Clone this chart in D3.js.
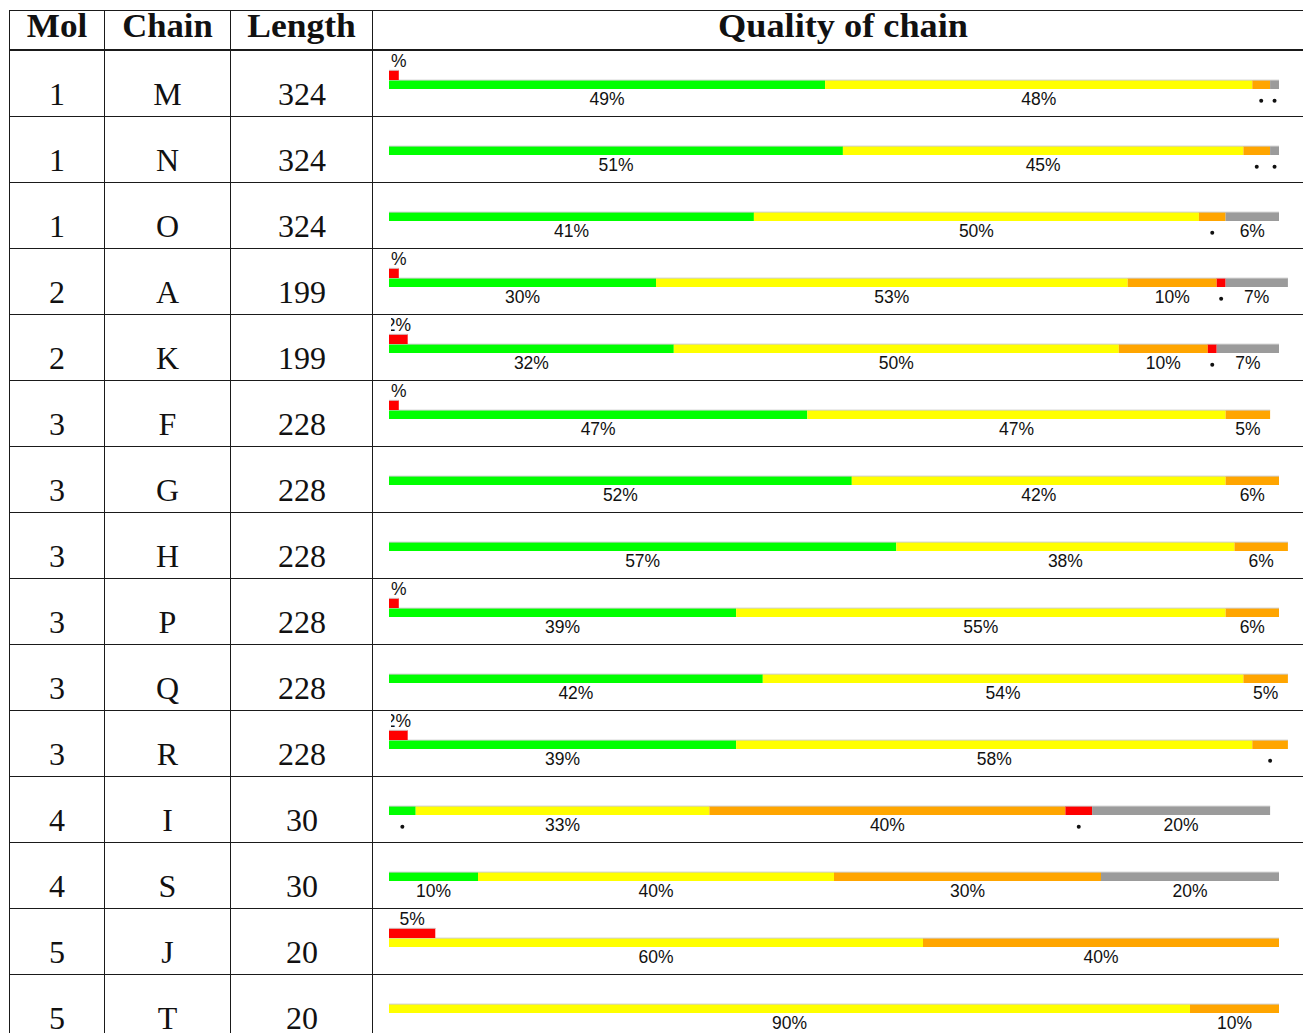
<!DOCTYPE html>
<html>
<head>
<meta charset="utf-8">
<script src="https://cdn.jsdelivr.net/npm/d3@7"></script>
<style>
  html, body { margin: 0; padding: 0; background: #fff; }
  svg { display: block; }
</style>
</head>
<body>
<svg id="chart" width="1303" height="1033"></svg>
<script>
// ---- Data ----
const headers = ["Mol", "Chain", "Length", "Quality of chain"];
const mols    = [1, 1, 1, 2, 2, 3, 3, 3, 3, 3, 3, 4, 4, 5, 5];
const chains  = ["M", "N", "O", "A", "K", "F", "G", "H", "P", "Q", "R", "I", "S", "J", "T"];
const lengths = [324, 324, 324, 199, 199, 228, 228, 228, 228, 228, 228, 30, 30, 20, 20];
// percentage of residues in each quality class
const greenPct  = [49, 51, 41, 30, 32, 47, 52, 57, 39, 42, 39, 3, 10, 0, 0];
const yellowPct = [48, 45, 50, 53, 50, 47, 42, 38, 55, 54, 58, 33, 40, 60, 90];
const orangePct = [2, 3, 3, 10, 10, 5, 6, 6, 6, 5, 4, 40, 30, 40, 10];
const redPct    = [0, 0, 0, 1, 1, 0, 0, 0, 0, 0, 0, 3, 0, 0, 0];
const grayPct   = [1, 1, 6, 7, 7, 0, 0, 0, 0, 0, 0, 20, 20, 0, 0];
// percentage of RSRZ outliers (small red bar above)
const outlierPct = [1.1, 0, 0, 1.1, 2.1, 1.1, 0, 0, 1.1, 0, 2.1, 0, 0, 5.2, 0];

// ---- Styling / layout ----
const W = 1303, H = 1033;
const colX = [9.5, 104.5, 230.5, 372.5];       // vertical rule positions
const headerTop = 10, headerBottom = 50, rowH = 66;
const keys = ["green", "yellow", "orange", "red", "gray"];
const colors = { green: "#00ff00", yellow: "#ffff00", orange: "#ffa500", red: "#ff0000", gray: "#9b9b9b" };
const serif = "'Liberation Serif', 'Times New Roman', serif";
const sans = "'Liberation Sans', Arial, Helvetica, sans-serif";

const svg = d3.select("#chart");

const table = chains.map((c, i) => ({
  chain: c, mol: mols[i], length: lengths[i],
  green: greenPct[i], yellow: yellowPct[i], orange: orangePct[i], red: redPct[i], gray: grayPct[i],
  outlier: outlierPct[i]
}));

const y = d3.scaleBand().domain(chains).range([headerBottom, headerBottom + rowH * chains.length]).padding(0);
const x = d3.scaleLinear().domain([0, 100]).range([389, 1279]);

// clip for the outlier labels (cut at the left of the picture area)
svg.append("defs").append("clipPath").attr("id", "qclip")
  .append("rect").attr("x", 389).attr("y", 0).attr("width", W - 389).attr("height", H);
svg.select("defs").append("clipPath").attr("id", "tclip")
  .append("rect").attr("x", 391).attr("y", 0).attr("width", W - 391).attr("height", H);

// ---- Header ----
const hdrCenters = [57, 167.5, 301.5, 843];
const hdrWidths = [60.5, 90.5, 108.5, 250];
svg.append("g").selectAll("text").data(headers).join("text")
  .attr("x", (d, i) => hdrCenters[i] - hdrWidths[i] / 2)
  .attr("y", 36.7)
  .attr("textLength", (d, i) => hdrWidths[i])
  .attr("lengthAdjust", "spacingAndGlyphs")
  .attr("font-family", serif).attr("font-weight", "bold").attr("font-size", 33)
  .attr("fill", "#111")
  .text(d => d);

// ---- Body text ----
const body = svg.append("g").attr("font-family", serif).attr("font-size", 32).attr("fill", "#111").attr("text-anchor", "middle");
const rowsG = body.selectAll("g.row").data(table).join("g").attr("class", "row")
  .attr("transform", d => `translate(0,${y(d.chain)})`);
rowsG.append("text").attr("x", 57).attr("y", 54.5).text(d => d.mol);
rowsG.append("text").attr("x", 167.5).attr("y", 54.5).text(d => d.chain);
rowsG.append("text").attr("x", 302).attr("y", 54.5).text(d => d.length);

// ---- Bars ----
const series = d3.stack().keys(keys)(table);
const bars = svg.append("g");
series.forEach(s => {
  const segs = s.filter(d => d[1] - d[0] > 0);
  const g = bars.append("g");
  g.selectAll("rect.fill").data(segs).join("rect").attr("class", "fill")
    .attr("x", d => x(d[0])).attr("width", d => x(d[1]) - x(d[0]))
    .attr("y", d => y(d.data.chain) + 30).attr("height", 9)
    .attr("fill", colors[s.key]);
  g.selectAll("rect.edge").data(segs).join("rect").attr("class", "edge")
    .attr("x", d => x(d[0])).attr("width", d => x(d[1]) - x(d[0]))
    .attr("y", d => y(d.data.chain) + 29.6).attr("height", 1)
    .attr("fill", "#cfcfcf");
  // labels: percentage for wide segments, a dot for narrow ones
  const big = segs.filter(d => d[1] - d[0] >= 5);
  const small = segs.filter(d => d[1] - d[0] < 5);
  g.selectAll("text").data(big).join("text")
    .attr("x", d => (x(d[0]) + x(d[1])) / 2)
    .attr("y", d => y(d.data.chain) + 55)
    .attr("text-anchor", "middle")
    .attr("font-family", sans).attr("font-size", 17.5).attr("fill", "#111")
    .text(d => Math.round(d[1] - d[0]) + "%");
  g.selectAll("circle").data(small).join("circle")
    .attr("cx", d => (x(d[0]) + x(d[1])) / 2)
    .attr("cy", d => y(d.data.chain) + 50.7)
    .attr("r", 2).attr("fill", "#111");
});

// outlier bars
const od = table.filter(d => d.outlier > 0);
const outl = svg.append("g").attr("clip-path", "url(#qclip)");
outl.selectAll("rect.o").data(od).join("rect").attr("class", "o")
  .attr("x", x(0)).attr("width", d => x(d.outlier) - x(0))
  .attr("y", d => y(d.chain) + 20).attr("height", 10)
  .attr("fill", colors.red);
outl.selectAll("rect.oe").data(od).join("rect").attr("class", "oe")
  .attr("x", x(0)).attr("width", d => x(d.outlier) - x(0))
  .attr("y", d => y(d.chain) + 19.8).attr("height", 1)
  .attr("fill", "#cfcfcf");
svg.append("g").attr("clip-path", "url(#tclip)")
  .selectAll("text").data(od).join("text")
  .attr("x", d => (x(0) + x(d.outlier)) / 2)
  .attr("y", d => y(d.chain) + 16.7)
  .attr("text-anchor", "middle")
  .attr("font-family", sans).attr("font-size", 17.5).attr("fill", "#111")
  .text(d => Math.round(d.outlier) + "%");

// ---- Rules ----
const rules = svg.append("g").attr("stroke", "#1a1a1a").attr("shape-rendering", "crispEdges");
rules.append("line").attr("x1", colX[0]).attr("x2", W).attr("y1", headerTop + 0.5).attr("y2", headerTop + 0.5).attr("stroke-width", 1);
rules.append("line").attr("x1", colX[0]).attr("x2", W).attr("y1", headerBottom).attr("y2", headerBottom).attr("stroke-width", 2);
rules.selectAll("line.row").data(chains.slice(1)).join("line").attr("class", "row")
  .attr("x1", colX[0]).attr("x2", W)
  .attr("y1", d => y(d) + 0.5).attr("y2", d => y(d) + 0.5)
  .attr("stroke-width", 1);
rules.selectAll("line.col").data(colX).join("line").attr("class", "col")
  .attr("x1", d => d).attr("x2", d => d)
  .attr("y1", headerTop).attr("y2", H)
  .attr("stroke-width", 1);
</script>
</body>
</html>
